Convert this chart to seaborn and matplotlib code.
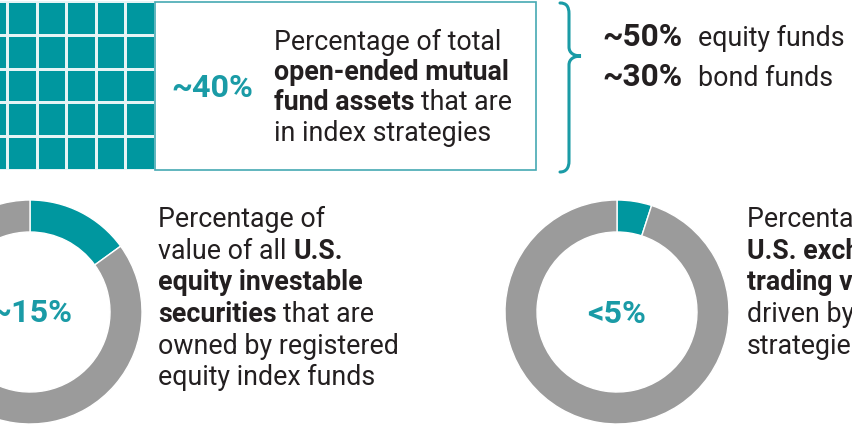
import matplotlib
matplotlib.use("Agg")
import matplotlib.pyplot as plt
import seaborn as sns
import numpy as np
from matplotlib.colors import ListedColormap
from matplotlib.patches import Rectangle, PathPatch
from matplotlib.path import Path

# ---------------- data ----------------
mf_index_share = "~40%"
grid_cells = np.ones((5, 6))
breakdown_values = ["~50%", "~30%"]
breakdown_labels = ["equity funds", "bond funds"]
donut_labels = ["~15%", "<5%"]
donut_index = [15, 5]
donut_other = [85, 95]

block1 = [[("Percentage of total", False)],
          [("open-ended mutual", True)],
          [("fund assets", True), (" that are", False)],
          [("in index strategies", False)]]
block2 = [[("Percentage of", False)],
          [("value of all", False), (" U.S.", True)],
          [("equity investable", True)],
          [("securities", True), (" that are", False)],
          [("owned by registered", False)],
          [("equity index funds", False)]]
block3 = [[("Percentage of", False)],
          [("U.S. exchange", True)],
          [("trading volume", True)],
          [("driven by index", False)],
          [("strategies", False)]]

# ---------------- style ----------------
sns.set_theme(style="white")
plt.rcParams['font.family'] = ['Roboto', 'DejaVu Sans']

TEAL = "#00979f"
TEAL_TXT = "#1a9ba6"
TEAL_EDGE = "#45a9b3"
GRAY = "#9b9b9b"
DARK = "#231f20"

W, H = 852, 426
fig = plt.figure(figsize=(W / 100, H / 100), dpi=100)
fig.patch.set_facecolor("white")

# grid (heatmap) : x from -22.6 to 155 px, y from 1 to 170 px
gx0, gx1, gy0, gy1 = -22.6, 155.0, 1.0, 170.0
axg = fig.add_axes([gx0 / W, (H - gy1) / H, (gx1 - gx0) / W, (gy1 - gy0) / H])
sns.heatmap(grid_cells, ax=axg, cmap=ListedColormap([TEAL]), vmin=0, vmax=1,
            cbar=False, linewidths=1.0, linecolor="#e6f4f5",
            xticklabels=False, yticklabels=False)
axg.set_xticks([]); axg.set_yticks([])

# overlay axes in pixel coordinates (y up)
ax = fig.add_axes([0, 0, 1, 1])
ax.set_facecolor("none")

def Y(p):
    return H - p

# donuts
centers = [(30, 312), (617, 312)]
for (cx, cy), a, b in zip(centers, donut_index, donut_other):
    ax.pie([a, b], colors=[TEAL, GRAY], startangle=90, counterclock=False,
           radius=112, center=(cx, Y(cy)), frame=True,
           wedgeprops=dict(width=32, edgecolor="white", linewidth=1.0))

ax.set_xlim(0, W)
ax.set_ylim(0, H)
ax.set_aspect("auto")
ax.axis("off")

# box
ax.add_patch(Rectangle((155, Y(170)), 536 - 155, 168, facecolor="none",
                       edgecolor=TEAL_EDGE, linewidth=1.2, zorder=5))

# brace
verts = [(560, 3), (566, 3), (569, 6), (569, 14),
         (569, 47),
         (569, 53), (574, 56), (581, 56),
         (574, 56), (569, 59), (569, 65),
         (569, 161),
         (569, 168), (566, 172), (560, 172)]
codes = [Path.MOVETO, Path.CURVE4, Path.CURVE4, Path.CURVE4,
         Path.LINETO,
         Path.CURVE4, Path.CURVE4, Path.CURVE4,
         Path.CURVE4, Path.CURVE4, Path.CURVE4,
         Path.LINETO,
         Path.CURVE4, Path.CURVE4, Path.CURVE4]
verts = [(x, Y(y)) for x, y in verts]
ax.add_patch(PathPatch(Path(verts, codes), facecolor="none", edgecolor=TEAL_TXT,
                       linewidth=2.2, capstyle="round", zorder=5))

renderer = fig.canvas.get_renderer()

def text_w(s, size, bold):
    t = ax.text(0, 0, s, fontsize=size, fontweight="bold" if bold else "normal")
    w = t.get_window_extent(renderer=renderer).width
    t.remove()
    return w

def fit(s, target, bold):
    return 20 * target / text_w(s, 20, bold)

BODY = fit("Percentage of total", 227, False)
BIG = fit("~40%", 82, True)
MID = fit("~50%", 80, True)

def space_w(size, bold):
    return text_w("n n", size, bold) - text_w("nn", size, bold)

def draw_block(lines, x0, baselines, size):
    for segs, yb in zip(lines, baselines):
        x = x0
        for s, bold in segs:
            if s.startswith(" "):
                x += space_w(size, bold)
                s = s.lstrip()
            t = ax.text(x, Y(yb), s, fontsize=size, color=DARK,
                        fontweight="bold" if bold else "normal",
                        ha="left", va="baseline")
            x += t.get_window_extent(renderer=renderer).width

draw_block(block1, 274, [50, 80, 110, 141], BODY)
draw_block(block2, 158, [227, 259, 290, 322, 354, 385], BODY)
draw_block(block3, 747, [227, 259, 290, 322, 354], BODY)

# big teal numbers
ax.text(212.5, Y(97), mf_index_share, fontsize=BIG, fontweight="bold",
        color=TEAL_TXT, ha="center", va="baseline")
ax.text(31, Y(322), donut_labels[0], fontsize=BIG, fontweight="bold",
        color=TEAL_TXT, ha="center", va="baseline")
ax.text(617, Y(323), donut_labels[1], fontsize=BIG, fontweight="bold",
        color=TEAL_TXT, ha="center", va="baseline")

# breakdown
for v, lab, yb in zip(breakdown_values, breakdown_labels, [46, 86]):
    ax.text(602, Y(yb), v, fontsize=MID, fontweight="bold", color=DARK,
            ha="left", va="baseline")
    ax.text(698, Y(yb), lab, fontsize=BODY, color=DARK, ha="left", va="baseline")

fig.savefig("out.png", dpi=100)
